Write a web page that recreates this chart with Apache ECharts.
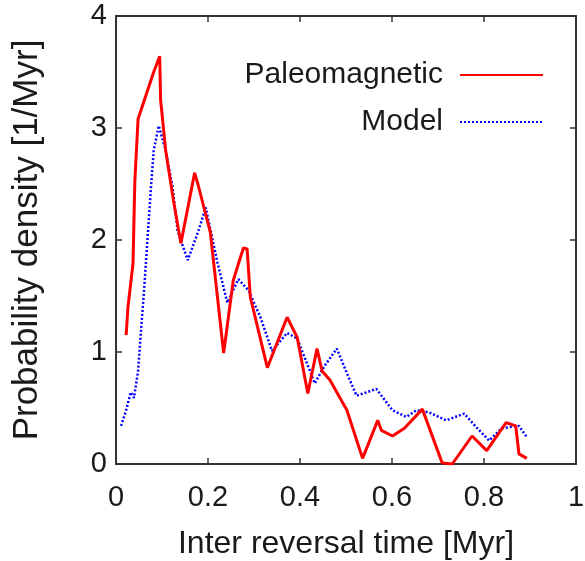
<!DOCTYPE html>
<html><head><meta charset="utf-8">
<script src="https://cdn.jsdelivr.net/npm/echarts@6/dist/echarts.min.js"></script>
<style>html,body{margin:0;padding:0;background:#fff}#c{width:585px;height:561px}</style>
</head><body><div id="c"></div>
<script>
// Paleomagnetic (red, solid)
const paleoX = [0.022,0.026,0.037,0.039,0.041,0.048,0.082,0.095,0.097,0.108,0.125,0.141,0.171,0.178,0.205,0.234,0.255,0.277,0.285,0.292,0.329,0.372,0.394,0.417,0.437,0.448,0.465,0.502,0.536,0.569,0.577,0.601,0.627,0.666,0.709,0.731,0.774,0.806,0.848,0.869,0.876,0.893];
const paleoY = [1.15,1.40,1.79,2.17,2.53,3.08,3.50,3.64,3.25,2.80,2.35,1.97,2.60,2.50,2.07,0.99,1.64,1.93,1.92,1.49,0.86,1.31,1.13,0.63,1.03,0.83,0.75,0.48,0.05,0.39,0.30,0.25,0.32,0.49,0.01,0.00,0.25,0.12,0.37,0.34,0.09,0.05];
// Model (blue, dotted)
const modelX = [0.011,0.022,0.032,0.039,0.048,0.054,0.061,0.069,0.076,0.082,0.093,0.108,0.123,0.134,0.156,0.179,0.195,0.221,0.242,0.266,0.288,0.314,0.339,0.372,0.394,0.415,0.432,0.454,0.480,0.502,0.523,0.566,0.601,0.631,0.653,0.681,0.718,0.757,0.783,0.811,0.839,0.876,0.893];
const modelY = [0.34,0.48,0.64,0.59,0.83,1.17,1.55,2.04,2.47,2.80,3.02,2.80,2.47,2.08,1.82,2.08,2.29,1.79,1.44,1.65,1.55,1.31,1.01,1.17,1.12,0.90,0.72,0.88,1.03,0.81,0.61,0.67,0.48,0.42,0.48,0.46,0.39,0.45,0.33,0.21,0.32,0.34,0.24];
const seriesNames = ['Paleomagnetic', 'Model'];
const xTicks = [0, 0.2, 0.4, 0.6, 0.8, 1];
const yTicks = [0, 1, 2, 3, 4];

const pair = (xs, ys) => xs.map((x, i) => [x, ys[i]]);
const frame = {onZero: false, lineStyle: {color: '#333', width: 2}};
const tick = {inside: true, length: 6, lineStyle: {color: '#333', width: 1.5}};
const txt = '#1a1a1a';
const font = 'Liberation Sans, Arial, sans-serif';

const chart = echarts.init(document.getElementById('c'));
chart.setOption({
  animation: false,
  backgroundColor: '#fff',
  grid: {left: 116, right: 9, top: 16, bottom: 97, containLabel: false, outerBoundsMode: 'none'},
  legend: {
    orient: 'vertical', right: 36, top: 55, align: 'right',
    itemWidth: 83, itemHeight: 14, itemGap: 17,
    itemStyle: {opacity: 0},
    textStyle: {fontSize: 30, color: txt, fontFamily: font, padding: [0, 12, 0, 0]},
    data: seriesNames
  },
  xAxis: [{
    type: 'value', min: xTicks[0], max: xTicks[xTicks.length - 1], interval: 0.2,
    axisLine: frame, axisTick: tick,
    axisLabel: {fontSize: 29, color: txt, fontFamily: font, margin: 19},
    splitLine: {show: false},
    name: 'Inter reversal time [Myr]', nameLocation: 'middle', nameGap: 64,
    nameTextStyle: {fontSize: 32, color: txt, fontFamily: font}
  }, {
    type: 'value', position: 'top', min: 0, max: 1, interval: 0.2,
    axisLine: frame, axisTick: tick,
    axisLabel: {show: false}, splitLine: {show: false}
  }],
  yAxis: [{
    type: 'value', min: yTicks[0], max: yTicks[yTicks.length - 1], interval: 1,
    axisLine: frame, axisTick: tick,
    axisLabel: {fontSize: 29, color: txt, fontFamily: font, margin: 9},
    splitLine: {show: false},
    name: 'Probability density [1/Myr]', nameLocation: 'middle', nameGap: 71,
    nameTextStyle: {fontSize: 35, color: txt, fontFamily: font}
  }, {
    type: 'value', position: 'right', min: 0, max: 4, interval: 1,
    axisLine: frame, axisTick: tick,
    axisLabel: {show: false}, splitLine: {show: false}
  }],
  series: [{
    name: seriesNames[0], type: 'line', data: pair(paleoX, paleoY),
    showSymbol: false, symbol: 'none',
    lineStyle: {color: '#ff0000', width: 3},
    itemStyle: {color: '#ff0000'}, z: 3
  }, {
    name: seriesNames[1], type: 'line', data: pair(modelX, modelY),
    showSymbol: false, symbol: 'none',
    lineStyle: {color: '#0000ff', width: 2.5, type: [2, 2]},
    itemStyle: {color: '#0000ff'}, z: 2
  }]
});
</script></body></html>
